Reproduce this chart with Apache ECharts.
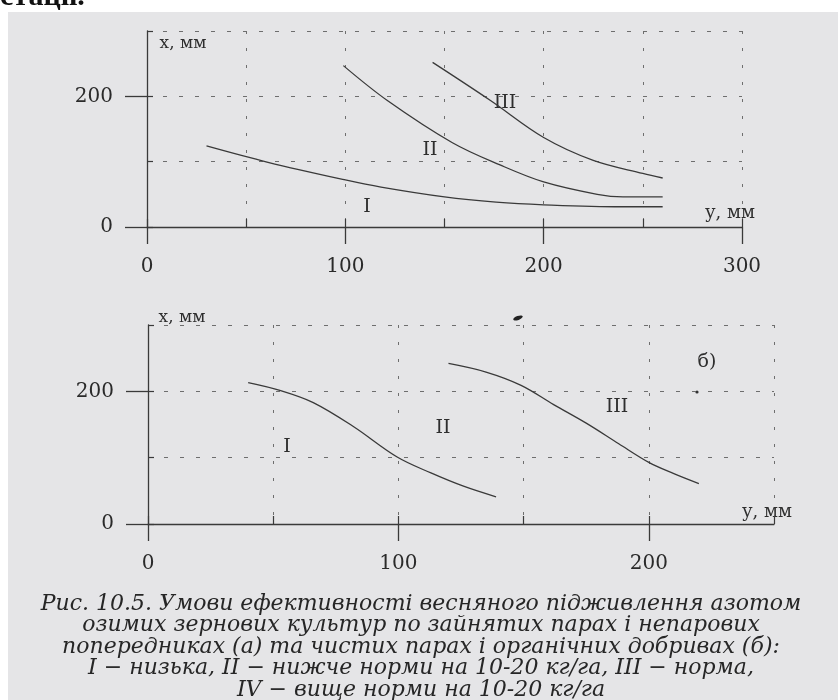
<!DOCTYPE html>
<html><head><meta charset="utf-8">
<script src="https://cdn.jsdelivr.net/npm/echarts@6/dist/echarts.min.js"></script>
<style>html,body{margin:0;padding:0;background:#fff}#c{width:838px;height:700px}</style>
</head><body><div id="c"></div>
<script>
// ---- chart (а): horizontal axis "у, мм", vertical axis "x, мм"
const aCurveI   = [[30,124],[61,99],[100,72],[118,61],[150,46],[176,38],[200,34],[239,31],[260,31]];
const aCurveII  = [[99,247],[121,194],[154,129],[178,95],[200,69],[227,50],[240,46],[260,46]];
const aCurveIII = [[144,252],[173,194],[200,137],[225,102],[250,82],[260,75]];
const aXLabels = [0,100,200,300];
const aYLabels = [0,200];
// ---- chart (б)
const bCurveI  = [[40,213],[53,201],[66,183],[82,147],[99.5,101],[113,77],[126,57],[139,41]];
const bCurveII = [[120,242],[135,229],[149,209],[162,180],[175,152],[188,121],[200,93],[210,76],[220,61]];
const bXLabels = [0,100,200];
const bYLabels = [0,200];
const caption = [
  'Рис. 10.5. Умови ефективності весняного підживлення азотом',
  'озимих зернових культур по зайнятих парах і непарових',
  'попередниках (а) та чистих парах і органічних добривах (б):',
  'I − низька, II − нижче норми на 10-20 кг/га, III − норма,',
  'IV − вище норми на 10-20 кг/га'
];

const INK = '#3a3a3a';
const GRIDC = '#6e6e6e';
const SERIF = '"DejaVu Serif", serif';

function mainX(gi, max, labels, tickLen){
  return {type:'value', gridIndex:gi, min:0, max:max, interval:50,
    axisLine:{show:true, onZero:false, lineStyle:{color:INK, width:1.3}},
    axisTick:{show:true, length:tickLen, customValues:labels, lineStyle:{color:INK, width:1.3}},
    axisLabel:{show:true, customValues:labels, margin:30, color:'#2a2a2a', fontFamily:SERIF, fontSize:20},
    splitLine:{show:false}};
}
function gridX(gi, max){
  return {type:'value', gridIndex:gi, min:0, max:max, interval:50,
    axisLine:{show:false}, axisTick:{show:true, length:8, lineStyle:{color:INK, width:1.2}},
    axisLabel:{show:false},
    splitLine:{show:true, lineStyle:{color:GRIDC, width:1, type:[3,14]}}};
}
function mainY(gi, labels){
  return {type:'value', gridIndex:gi, min:0, max:300, interval:100,
    axisLine:{show:true, onZero:false, lineStyle:{color:INK, width:1.3}},
    axisTick:{show:true, length:22, customValues:labels, lineStyle:{color:INK, width:1.3}},
    axisLabel:{show:true, customValues:labels, margin:34, color:'#2a2a2a', fontFamily:SERIF, fontSize:20},
    splitLine:{show:false}};
}
function gridY(gi){
  return {type:'value', gridIndex:gi, min:0, max:300, interval:100,
    axisLine:{show:false}, axisTick:{show:true, length:6, lineStyle:{color:INK, width:1.2}},
    axisLabel:{show:false},
    splitLine:{show:true, lineStyle:{color:GRIDC, width:1, type:[4,12]}}};
}
function curve(data, xi, yi){
  return {type:'line', xAxisIndex:xi, yAxisIndex:yi, data:data, smooth:0.35,
    showSymbol:false, symbol:'none', silent:true,
    lineStyle:{color:INK, width:1.3}};
}
function txt(x, y, s, size, extra){
  return Object.assign({type:'text', x:x, y:y, silent:true,
    style:{text:s, fill:'#2e2e2e', font:size+'px '+SERIF, align:'center', verticalAlign:'middle'}}, extra||{});
}

const graphic = [
  {type:'rect', z:-10, shape:{x:8, y:12, width:830, height:688}, style:{fill:'#e5e5e7'}},
  {type:'text', x:0, y:12, style:{text:'стації.', fill:'#111', font:'bold 30px "Liberation Serif", serif', align:'left', verticalAlign:'bottom'}},
  txt(183,44,'x, мм',17), txt(730,213,'у, мм',18),
  txt(367,207,'I',19), txt(430,150,'II',19), txt(505,103,'III',19),
  txt(182,318,'x, мм',17), txt(767,512,'у, мм',18),
  txt(287,447,'I',19), txt(443,428,'II',19), txt(617,407,'III',19), txt(707,362,'б)',19),
  {type:'ellipse', silent:true, x:518, y:318, rotation:0.35, shape:{cx:0, cy:0, rx:5, ry:2}, style:{fill:'#222'}},
  {type:'circle', silent:true, shape:{cx:697, cy:392, r:1.6}, style:{fill:'#333'}}
];
caption.forEach(function(s,i){
  graphic.push({type:'text', x:421, y:604+i*21.5, silent:true,
    style:{text:s, fill:'#262626', font:'italic 22px '+SERIF, align:'center', verticalAlign:'middle'}});
});

const chart = echarts.init(document.getElementById('c'), null, {renderer:'canvas'});
chart.setOption({
  animation:false,
  backgroundColor:'#ffffff',
  grid:[
    {left:147, top:31, width:595, height:196},
    {left:148, top:325, width:626, height:199}
  ],
  xAxis:[mainX(0,300,aXLabels,17), gridX(0,300), mainX(1,250,bXLabels,17), gridX(1,250)],
  yAxis:[mainY(0,aYLabels), gridY(0), mainY(1,bYLabels), gridY(1)],
  series:[
    curve(aCurveI,0,0), curve(aCurveII,0,0), curve(aCurveIII,0,0),
    curve(bCurveI,2,2), curve(bCurveII,2,2)
  ],
  graphic:graphic
});
</script></body></html>
